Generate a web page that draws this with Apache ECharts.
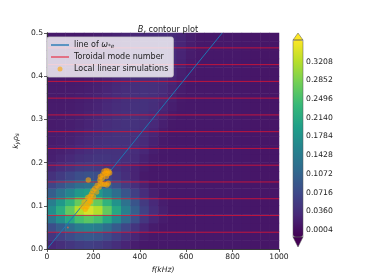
<!DOCTYPE html>
<html><head><meta charset="utf-8">
<script src="https://cdn.jsdelivr.net/npm/echarts@6/dist/echarts.min.js"></script>
<style>html,body{margin:0;padding:0;background:#fff}#c{width:374px;height:280px}</style>
</head><body><div id="c"></div><script>
// frequency cell centres (kHz) and k_y rho_s cell centres of the contour field
const fCenters=[20,60,100,140,180,220,260,300,340,380,420,460,500,540,580,620,660,700,740,780,820,860,900,940,980];
const kCenters=[0.01,0.03,0.05,0.07,0.09,0.11,0.13,0.15,0.17,0.19,0.21,0.23,0.25,0.27,0.29,0.31,0.33,0.35,0.37,0.39,0.41,0.43,0.45,0.47,0.49];
// B_r amplitude, one row per k (bottom to top), one column per f
const field=[
[.029,.037,.046,.054,.058,.054,.046,.036,.026,.017,.012,.012,.012,.012,.012,.012,.012,.012,.012,.012,.012,.011,.010,.009,.009],
[.046,.059,.073,.086,.092,.086,.073,.057,.041,.027,.016,.012,.012,.012,.012,.012,.012,.012,.012,.012,.012,.011,.010,.009,.009],
[.077,.099,.122,.144,.153,.144,.122,.095,.068,.045,.027,.016,.012,.012,.012,.012,.012,.012,.012,.012,.012,.011,.010,.009,.009],
[.133,.172,.211,.250,.265,.250,.211,.164,.117,.078,.047,.027,.016,.012,.012,.012,.012,.012,.012,.012,.012,.011,.010,.009,.009],
[.170,.220,.270,.320,.340,.320,.270,.210,.150,.100,.060,.035,.020,.012,.012,.012,.012,.012,.012,.012,.012,.011,.010,.009,.009],
[.145,.187,.230,.272,.289,.272,.230,.179,.128,.085,.051,.030,.017,.012,.012,.012,.012,.012,.012,.012,.012,.011,.010,.009,.009],
[.099,.128,.157,.186,.197,.186,.157,.122,.087,.058,.035,.020,.012,.012,.012,.012,.012,.012,.012,.012,.012,.011,.010,.009,.009],
[.065,.084,.103,.122,.129,.122,.103,.080,.057,.038,.023,.013,.012,.012,.012,.012,.012,.012,.012,.012,.012,.011,.010,.009,.009],
[.041,.053,.065,.077,.082,.077,.065,.050,.036,.024,.014,.012,.012,.012,.012,.012,.012,.012,.012,.012,.012,.011,.010,.009,.009],
[.027,.035,.043,.051,.054,.051,.045,.040,.033,.025,.017,.012,.012,.012,.012,.012,.012,.012,.012,.012,.012,.011,.010,.009,.009],
[.019,.024,.030,.037,.042,.045,.045,.043,.038,.032,.022,.015,.012,.012,.012,.012,.012,.012,.012,.012,.012,.011,.010,.009,.009],
[.018,.020,.024,.030,.035,.040,.042,.042,.040,.035,.028,.018,.013,.012,.012,.012,.012,.012,.012,.012,.012,.011,.010,.009,.009],
[.016,.018,.021,.026,.031,.036,.040,.042,.041,.038,.032,.022,.014,.012,.012,.012,.012,.012,.012,.012,.012,.011,.010,.009,.009],
[.016,.017,.019,.023,.028,.033,.038,.041,.042,.040,.035,.026,.016,.012,.012,.012,.012,.012,.012,.012,.012,.011,.010,.009,.009],
[.015,.016,.018,.021,.025,.030,.035,.039,.041,.041,.037,.030,.019,.013,.012,.012,.012,.012,.012,.012,.012,.011,.010,.009,.009],
[.015,.015,.017,.019,.023,.027,.032,.037,.040,.041,.039,.033,.023,.015,.012,.012,.012,.012,.012,.012,.012,.011,.010,.009,.009],
[.015,.015,.016,.018,.021,.025,.030,.035,.038,.040,.040,.036,.027,.018,.013,.012,.012,.012,.012,.012,.012,.011,.010,.009,.009],
[.014,.014,.015,.017,.019,.023,.028,.033,.037,.039,.040,.038,.031,.021,.014,.012,.012,.012,.012,.012,.012,.011,.010,.009,.009],
[.014,.014,.015,.016,.018,.021,.026,.031,.035,.038,.040,.039,.034,.024,.016,.012,.012,.012,.012,.012,.012,.011,.010,.009,.009],
[.014,.014,.014,.015,.017,.020,.024,.029,.033,.037,.039,.039,.036,.027,.018,.013,.012,.012,.012,.012,.012,.011,.010,.009,.009],
[.013,.013,.014,.015,.016,.019,.022,.027,.031,.035,.038,.039,.037,.030,.020,.014,.012,.012,.012,.012,.012,.011,.010,.009,.009],
[.013,.013,.014,.014,.015,.018,.021,.025,.029,.033,.036,.038,.037,.032,.023,.015,.012,.012,.012,.012,.012,.011,.010,.009,.009],
[.013,.013,.013,.014,.015,.017,.020,.023,.027,.031,.034,.036,.036,.033,.025,.016,.012,.012,.012,.012,.012,.011,.010,.009,.009],
[.013,.013,.013,.014,.014,.016,.019,.022,.025,.029,.032,.034,.035,.033,.026,.017,.012,.012,.012,.012,.012,.011,.010,.009,.009],
[.013,.013,.013,.013,.014,.016,.018,.021,.024,.027,.030,.032,.033,.032,.027,.018,.012,.012,.012,.012,.012,.011,.010,.009,.009]
];
const xTicks=[0,200,400,600,800,1000];
const yTicks=[0,0.1,0.2,0.3,0.4,0.5];
const cbTicks=[0.0004,0.0360,0.0716,0.1072,0.1428,0.1784,0.2140,0.2496,0.2852,0.3208];
const cbMin=-0.0129, cbMax=0.362;
const toroidalK=[0.0388,0.0776,0.1164,0.1552,0.1940,0.2328,0.2716,0.3104,0.3492,0.3880,0.4268,0.4656];
const toroidalF=[0,1000];
const omegaF=[0,755];
const omegaK=[0,0.5];
const simF=[152,160,165,172,178,182,188,176,186,192,200,198,206,214,216,224,230,238,248,258,264,228,238,230,240,250,256,246,256,266,262,270];
const simK=[0.098,0.108,0.092,0.098,0.104,0.112,0.110,0.119,0.122,0.128,0.121,0.135,0.140,0.132,0.147,0.143,0.152,0.150,0.150,0.148,0.152,0.160,0.163,0.168,0.172,0.175,0.168,0.180,0.182,0.180,0.174,0.176];
const loneF=[178], loneK=[0.160];
const tinyF=[90], tinyK=[0.0495];

const viridis=['#440154','#482878','#3e4989','#31688e','#26828e','#1f9e89','#35b779','#6ece58','#b5de2b','#fde725'];
const FONT='DejaVu Sans';
const RED='rgba(235,20,45,0.75)';
const heat=[];
field.forEach((row,r)=>row.forEach((v,c)=>heat.push([c,r,v])));
const simData=simF.map((f,i)=>[f,simK[i]]).concat(loneF.map((f,i)=>[f,loneK[i]]));

const toroidalSeries=toroidalK.map(k=>({
  type:'line',name:'Toroidal mode number',xAxisIndex:0,yAxisIndex:0,
  data:toroidalF.map(f=>[f,k]),showSymbol:false,symbol:'none',silent:true,
  color:RED,lineStyle:{color:RED,width:1},z:3,emphasis:{disabled:true}
}));

const chart=echarts.init(document.getElementById('c'),null,{renderer:'canvas'});
const sub={fontSize:5.8,fontFamily:FONT,fontStyle:'italic',color:'#222',verticalAlign:'bottom',lineHeight:6};
chart.setOption({
  animation:false,
  backgroundColor:'#fff',
  title:{text:'{i|B}{s|r}{n| contour plot}',left:163,top:20,textAlign:'center',
    textStyle:{fontSize:8.2,fontWeight:'normal',fontFamily:FONT,color:'#222',
      rich:{i:{fontSize:8.2,fontStyle:'italic',fontFamily:FONT,color:'#222',lineHeight:10},
            s:{fontSize:5.8,fontStyle:'italic',fontFamily:FONT,color:'#222',lineHeight:4,padding:[4,0,0,0]},
            n:{fontSize:8.2,fontFamily:FONT,color:'#222',lineHeight:10}}}},
  grid:[{left:47,right:95,top:33,bottom:31},{left:293,top:40,width:10,height:197}],
  xAxis:[
    {type:'value',gridIndex:0,min:0,max:1000,interval:200,position:'bottom',z:10,
      axisLine:{show:true,onZero:false,lineStyle:{color:'#333',width:0.8}},
      axisTick:{show:true,length:3,lineStyle:{color:'#333',width:0.8}},
      axisLabel:{fontSize:7.6,color:'#222',fontFamily:FONT,margin:4,customValues:xTicks,formatter:v=>String(v)},
      splitLine:{show:false},
      name:'f(kHz)',nameLocation:'middle',nameGap:15,
      nameTextStyle:{fontSize:7.6,fontStyle:'italic',fontFamily:FONT,color:'#222'}},
    {type:'category',gridIndex:0,data:fCenters,position:'top',z:10,
      axisLine:{show:true,lineStyle:{color:'#333',width:0.8}},axisTick:{show:false},axisLabel:{show:false},splitLine:{show:false}},
    {type:'value',gridIndex:1,show:false,min:0,max:1}
  ],
  yAxis:[
    {type:'value',gridIndex:0,min:0,max:0.5,interval:0.1,position:'left',z:10,
      axisLine:{show:true,onZero:false,lineStyle:{color:'#333',width:0.8}},
      axisTick:{show:true,length:3,lineStyle:{color:'#333',width:0.8}},
      axisLabel:{fontSize:7.6,color:'#222',fontFamily:FONT,margin:4,customValues:yTicks,formatter:v=>v.toFixed(1)},
      splitLine:{show:false},
      name:'{i|k}{s|y}{i|ρ}{s|s}',nameLocation:'middle',nameGap:23,
      nameTextStyle:{fontSize:7.6,fontFamily:FONT,color:'#222',
        rich:{i:{fontSize:7.6,fontStyle:'italic',fontFamily:FONT,color:'#222'},s:sub}}},
    {type:'category',gridIndex:0,data:kCenters,position:'right',z:10,
      axisLine:{show:true,lineStyle:{color:'#333',width:0.8}},axisTick:{show:false},axisLabel:{show:false},splitLine:{show:false}},
    {type:'value',gridIndex:1,min:cbMin,max:cbMax,position:'right',
      axisLine:{show:false},splitLine:{show:false},
      axisTick:{show:true,length:3,customValues:cbTicks,lineStyle:{color:'#333',width:0.8}},
      axisLabel:{fontSize:7.7,color:'#222',fontFamily:FONT,margin:3,customValues:cbTicks,formatter:v=>v.toFixed(4)}}
  ],
  visualMap:{type:'continuous',seriesIndex:0,min:cbMin,max:cbMax,calculable:false,
    left:293,top:40,itemWidth:10,itemHeight:197,padding:0,hoverLink:false,
    inRange:{color:viridis}},
  legend:{left:47,top:37,orient:'vertical',selectedMode:false,
    padding:[4,5,4,4],itemWidth:18,itemHeight:5,itemGap:4,
    backgroundColor:'rgba(255,255,255,0.8)',borderColor:'#cccccc',borderWidth:0.8,borderRadius:2,
    textStyle:{fontSize:8,color:'#222',fontFamily:FONT,
      rich:{i:{fontSize:8,fontStyle:'italic',fontFamily:FONT,color:'#222'},s:sub}},
    formatter:n=>n==='line of ω*e'?'line of {i|ω}{s|*e}':n,
    data:[{name:'line of ω*e',icon:'path://M0,0h20v1.5h-20z'},
          {name:'Toroidal mode number',icon:'path://M0,0h20v1.5h-20z'},
          {name:'Local linear simulations',icon:'circle'}],
    z:20},
  graphic:[
    {type:'polygon',z:100,shape:{points:[[293,40],[303,40],[298,33]]},style:{fill:'#fde725',stroke:'#555',lineWidth:0.5}},
    {type:'polygon',z:100,shape:{points:[[293,237],[303,237],[298,247]]},style:{fill:'#440154',stroke:'#555',lineWidth:0.5}},
    {type:'rect',z:100,shape:{x:293,y:40,width:10,height:197},style:{fill:null,stroke:'#555',lineWidth:0.5}}
  ],
  series:[
    {type:'heatmap',xAxisIndex:1,yAxisIndex:1,data:heat,z:1,itemStyle:{borderWidth:0},emphasis:{disabled:true}},
    {type:'line',name:'line of ω*e',xAxisIndex:0,yAxisIndex:0,data:omegaF.map((f,i)=>[f,omegaK[i]]),
      showSymbol:false,symbol:'none',color:'#1f77b4',lineStyle:{color:'#1f77b4',width:1},clip:true,z:4},
    ...toroidalSeries,
    {type:'scatter',name:'Local linear simulations',xAxisIndex:0,yAxisIndex:0,data:simData,
      symbolSize:5.5,color:'#ffa500',itemStyle:{color:'#ffa500',opacity:0.6},z:5},
    {type:'scatter',name:'tiny',xAxisIndex:0,yAxisIndex:0,data:tinyF.map((f,i)=>[f,tinyK[i]]),
      symbolSize:2,itemStyle:{color:'#e0604a',opacity:0.8},z:5}
  ]
});
</script></body></html>
